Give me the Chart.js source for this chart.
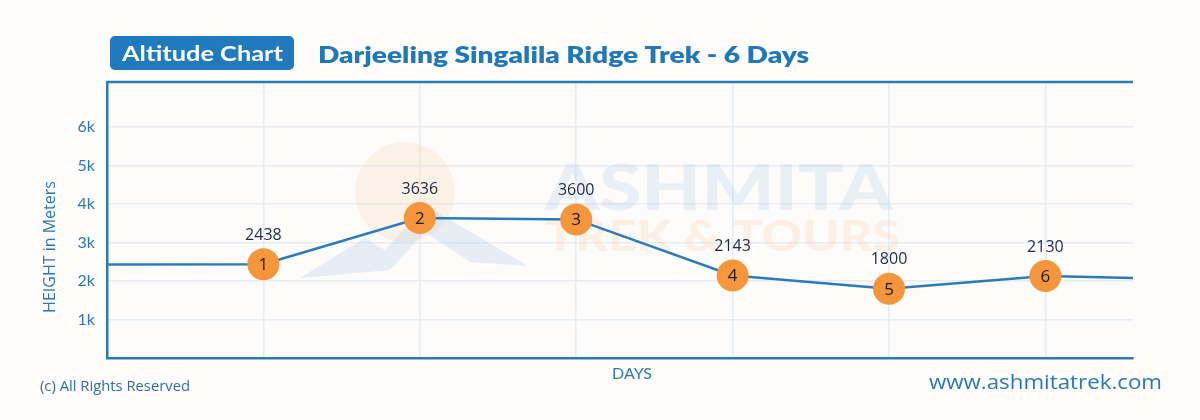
<!DOCTYPE html>
<html>
<head>
<meta charset="utf-8">
<title>Altitude Chart</title>
<script src="https://cdn.jsdelivr.net/npm/chart.js@4.4.0/dist/chart.umd.min.js"></script>
<style>
  html, body { margin: 0; padding: 0; background: #fdfcfb; }
  #wrap { width: 1200px; height: 420px; }
</style>
</head>
<body>
<div id="wrap"><canvas id="altitude-chart" width="1200" height="420"></canvas></div>
<script>
(function () {
  "use strict";

  // x positions along the trek (0 and the last one are the run-in / run-out of the line)
  const dayPositions = [0, 1, 2, 3, 4, 5, 6, 6.56];
  const altitudes = [2430, 2438, 3636, 3600, 2143, 1800, 2130, 2080];
  const dayMarkers = ["", "1", "2", "3", "4", "5", "6", ""];
  const altitudeLabels = ["", "2438", "3636", "3600", "2143", "1800", "2130", ""];
  const dayGrid = [1, 2, 3, 4, 5, 6];
  const heightTicks = [1000, 2000, 3000, 4000, 5000, 6000];

  const BLUE = "#2b7bb9";
  const TEXT_BLUE = "#2a78b6";
  const ORANGE = "#f5953c";
  const GRID = "#e4ecf4";

  function fitText(ctx, text, x, y, width) {
    const w = ctx.measureText(text).width;
    ctx.save();
    ctx.translate(x, y);
    ctx.scale(width / w, 1);
    ctx.fillText(text, 0, 0);
    ctx.restore();
  }

  const background = {
    id: "background",
    beforeDraw: function (chart) {
      const ctx = chart.ctx;
      ctx.save();
      ctx.fillStyle = "#fdfcfb";
      ctx.fillRect(0, 0, chart.width, chart.height);
      ctx.restore();
    },
  };

  // faint company logo behind the line
  const watermark = {
    id: "watermark",
    beforeDatasetsDraw: function (chart) {
      const ctx = chart.ctx;
      ctx.save();
      ctx.fillStyle = "rgba(250, 185, 130, 0.16)";
      ctx.beginPath();
      ctx.arc(405, 192, 50, 0, Math.PI * 2);
      ctx.fill();

      ctx.fillStyle = "rgba(185, 208, 232, 0.35)";
      ctx.beginPath();
      ctx.moveTo(300, 278);
      ctx.lineTo(365, 238);
      ctx.lineTo(385, 250);
      ctx.lineTo(425, 205);
      ctx.lineTo(528, 266);
      ctx.lineTo(470, 262);
      ctx.lineTo(425, 232);
      ctx.lineTo(390, 270);
      ctx.closePath();
      ctx.fill();

      ctx.textBaseline = "alphabetic";
      ctx.textAlign = "left";
      ctx.font = "900 62px Lato";
      ctx.fillStyle = "rgba(190, 210, 234, 0.32)";
      fitText(ctx, "ASHMITA", 545, 210, 348);
      ctx.font = "900 42px Lato";
      ctx.fillStyle = "rgba(250, 200, 160, 0.26)";
      fitText(ctx, "TREK & TOURS", 545, 251, 355);
      ctx.restore();
    },
  };

  // day number inside each marker and altitude above it
  const markerLabels = {
    id: "markerLabels",
    afterDatasetsDraw: function (chart) {
      const ctx = chart.ctx;
      const meta = chart.getDatasetMeta(0);
      ctx.save();
      ctx.textAlign = "center";
      ctx.textBaseline = "middle";
      meta.data.forEach(function (pt, i) {
        if (!dayMarkers[i]) return;
        ctx.font = "17px 'Open Sans'";
        ctx.fillStyle = "#1b1b1b";
        ctx.fillText(dayMarkers[i], pt.x, pt.y + 1);
        ctx.font = "16px 'Open Sans'";
        ctx.fillStyle = "#1e2a44";
        ctx.fillText(altitudeLabels[i], pt.x, pt.y - 29);
      });
      ctx.restore();
    },
  };

  const decorations = {
    id: "decorations",
    afterDraw: function (chart) {
      const ctx = chart.ctx;
      const area = chart.chartArea;
      ctx.save();

      // top edge of the frame
      ctx.strokeStyle = BLUE;
      ctx.lineWidth = 2.5;
      ctx.beginPath();
      ctx.moveTo(area.left, area.top);
      ctx.lineTo(area.right, area.top);
      ctx.stroke();

      // badge
      ctx.fillStyle = "#1f7bbd";
      ctx.beginPath();
      ctx.roundRect(110, 36, 184, 34, 5);
      ctx.fill();
      ctx.fillStyle = "#ffffff";
      ctx.font = "bold 21px Lato";
      ctx.textAlign = "left";
      ctx.textBaseline = "alphabetic";
      fitText(ctx, "Altitude Chart", 122, 61, 161);

      // title
      ctx.fillStyle = "#1f78b8";
      ctx.font = "800 23px Lato";
      fitText(ctx, "Darjeeling Singalila Ridge Trek - 6 Days", 318, 63, 491);

      // axis titles
      ctx.fillStyle = TEXT_BLUE;
      ctx.font = "16px Lato";
      ctx.textAlign = "center";
      ctx.textBaseline = "middle";
      ctx.fillText("DAYS", 632, 374);
      ctx.save();
      ctx.translate(50, 247);
      ctx.rotate(-Math.PI / 2);
      ctx.font = "16px 'Open Sans'";
      ctx.fillText("HEIGHT in Meters", 0, 0);
      ctx.restore();

      // footer
      ctx.textAlign = "left";
      ctx.textBaseline = "alphabetic";
      ctx.fillStyle = "#2f6fa6";
      ctx.font = "14px 'Open Sans'";
      fitText(ctx, "(c) All Rights Reserved", 40, 391, 150);
      ctx.fillStyle = TEXT_BLUE;
      ctx.font = "20px 'Open Sans'";
      fitText(ctx, "www.ashmitatrek.com", 929, 389, 233);
      ctx.restore();
    },
  };

  const points = dayPositions.map(function (x, i) {
    return { x: x, y: altitudes[i] };
  });

  new Chart(document.getElementById("altitude-chart"), {
    type: "line",
    data: {
      datasets: [
        {
          data: points,
          borderColor: BLUE,
          borderWidth: 2.5,
          tension: 0,
          pointRadius: dayMarkers.map(function (m) {
            return m ? 16 : 0;
          }),
          pointBackgroundColor: ORANGE,
          pointBorderWidth: 0,
          pointBorderColor: ORANGE,
          fill: false,
        },
      ],
    },
    options: {
      responsive: false,
      animation: false,
      devicePixelRatio: 1,
      layout: { padding: { top: 82, right: 67, bottom: 62, left: 0 } },
      plugins: {
        legend: { display: false },
        tooltip: { enabled: false },
      },
      scales: {
        x: {
          type: "linear",
          min: 0,
          max: 6.56,
          afterBuildTicks: function (axis) {
            axis.ticks = dayGrid.map(function (v) {
              return { value: v };
            });
          },
          ticks: { display: false },
          grid: { color: GRID, lineWidth: 1.5, drawTicks: false },
          border: { display: true, color: BLUE, width: 2.5 },
        },
        y: {
          type: "linear",
          min: 0,
          max: 7170,
          afterBuildTicks: function (axis) {
            axis.ticks = heightTicks.map(function (v) {
              return { value: v };
            });
          },
          afterFit: function (scale) {
            scale.width = 107;
          },
          ticks: {
            color: TEXT_BLUE,
            font: { family: "Lato", size: 16 },
            padding: 12,
            callback: function (v) {
              return v / 1000 + "k";
            },
          },
          grid: { color: GRID, lineWidth: 1.5, drawTicks: false },
          border: { display: true, color: BLUE, width: 2.5 },
        },
      },
    },
    plugins: [background, watermark, markerLabels, decorations],
  });
})();
</script>
</body>
</html>
